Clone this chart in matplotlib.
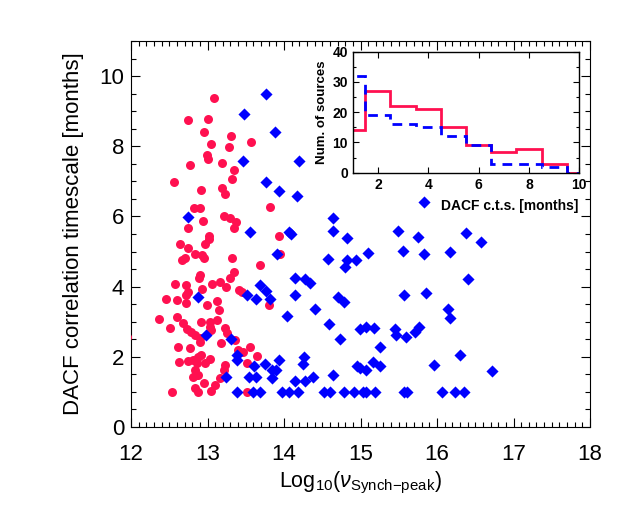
import numpy as np
import matplotlib
matplotlib.use('Agg')
import matplotlib.pyplot as plt
from matplotlib.ticker import MultipleLocator

# red circles: log10(nu_synch_peak), DACF timescale [months]
red_x = [13.08, 12.75, 13.00, 12.96, 13.31, 13.04, 13.28, 13.57, 12.99, 13.00,
         12.77, 13.19, 13.34, 13.32, 12.56, 12.91, 13.19, 13.23, 12.82, 12.90,
         13.82, 12.94, 13.22, 13.29, 13.37, 13.35, 12.75, 13.02, 13.02, 12.97,
         13.94, 12.64, 12.74, 12.66, 12.71, 12.84, 12.93, 12.95, 13.32, 13.68,
         13.95, 12.90, 12.89, 13.35, 13.29, 12.58, 12.72, 12.74, 12.93, 13.06,
         13.16, 13.24, 13.41, 13.45, 12.46, 12.60, 12.72, 12.72, 13.12, 13.15,
         12.99, 13.81, 12.36, 12.51, 12.60, 12.68, 12.73, 12.79, 12.84, 12.90,
         12.91, 13.03, 13.12, 13.03, 13.05, 13.23, 13.26, 13.18, 12.62, 12.77,
         12.90, 13.40, 13.47, 13.56, 13.65, 13.36, 12.63, 12.75, 12.81, 12.88,
         12.92, 13.03, 12.97, 12.86, 13.23, 13.21, 13.51, 12.84, 12.85, 12.81,
         12.88, 12.95, 13.16, 13.10, 13.05, 12.83, 12.88, 12.53, 13.52, 11.95]
red_y = [9.38, 8.74, 8.77, 8.41, 8.30, 8.06, 7.98, 8.11, 7.75, 7.64,
         7.46, 7.53, 7.32, 7.07, 6.97, 6.74, 6.82, 6.65, 6.23, 6.25,
         6.27, 5.87, 6.01, 5.96, 5.85, 5.67, 5.68, 5.45, 5.35, 5.21,
         5.45, 5.21, 5.09, 4.76, 4.81, 4.93, 4.90, 4.81, 4.81, 4.62,
         4.94, 4.33, 4.24, 4.42, 4.24, 4.07, 4.04, 3.85, 3.93, 4.07,
         4.12, 4.00, 3.89, 3.85, 3.64, 3.62, 3.76, 3.54, 3.59, 3.33,
         3.47, 3.48, 3.08, 2.83, 3.14, 2.97, 2.78, 2.72, 2.62, 2.53,
         2.98, 3.00, 3.05, 2.86, 2.76, 2.81, 2.67, 2.38, 2.27, 2.24,
         2.43, 2.19, 2.15, 2.27, 2.02, 2.48, 1.86, 1.89, 1.91, 2.00,
         2.05, 1.93, 1.81, 1.81, 1.77, 1.62, 1.81, 1.62, 1.48, 1.42,
         1.48, 1.25, 1.39, 1.20, 1.03, 1.10, 0.99, 0.99, 0.99, 2.57]

# blue diamonds
blue_x = [13.76, 13.48, 13.88, 13.46, 14.19, 13.76, 13.94, 14.17, 12.75, 13.56,
          14.06, 14.09, 13.91, 14.15, 14.28, 14.34, 13.68, 13.77, 13.82, 13.52,
          13.63, 12.87, 14.15, 14.04, 14.41, 12.98, 13.31, 13.38, 13.38, 13.61,
          13.75, 13.94, 13.84, 13.90, 13.84, 13.54, 13.64, 13.24, 14.26, 14.25,
          14.15, 14.28, 14.38, 14.59, 14.64,
          13.38, 13.60, 13.68, 13.97, 14.07, 14.18, 14.52, 14.60, 14.79, 14.92,
          15.03, 15.07, 15.19, 15.57, 15.61, 16.07, 16.24, 16.35,
          15.83, 14.64, 14.64, 15.49, 14.82, 15.75, 16.38, 16.58, 15.56, 15.10,
          15.83, 16.17, 14.57, 14.82, 14.94, 14.80, 16.41, 14.70, 14.78, 15.57,
          15.86, 16.14, 16.17, 14.73, 14.99, 15.07, 15.18, 15.45, 15.46, 15.59,
          15.71, 15.76, 15.25, 16.30, 14.95, 14.99, 15.07, 15.16, 15.26, 15.96,
          16.72]
blue_y = [9.49, 8.91, 8.40, 7.57, 7.57, 6.99, 6.73, 6.58, 5.99, 5.56,
          5.56, 5.51, 4.93, 4.24, 4.22, 4.09, 4.05, 3.87, 3.64, 3.76,
          3.64, 3.71, 3.75, 3.16, 3.35, 2.62, 2.50, 2.05, 1.91, 1.74,
          1.79, 1.91, 1.62, 1.62, 1.39, 1.43, 1.42, 1.42, 2.00, 1.79,
          1.32, 1.32, 1.43, 2.93, 1.48,
          0.99, 0.99, 0.99, 0.99, 0.99, 0.99, 0.99, 0.99, 0.99, 0.99,
          0.99, 0.99, 0.99, 0.99, 0.99, 0.99, 0.99, 0.99,
          6.42, 5.96, 5.59, 5.58, 5.39, 5.42, 5.52, 5.26, 5.02, 4.95,
          4.93, 4.99, 4.79, 4.76, 4.76, 4.55, 4.22, 3.71, 3.55, 3.76,
          3.81, 3.35, 3.11, 2.51, 2.79, 2.84, 2.81, 2.79, 2.62, 2.56,
          2.72, 2.86, 2.29, 2.05, 1.75, 1.67, 1.62, 1.84, 1.75, 1.77,
          1.60]

# inset histogram (bins of 1 month centred on integers)
hist_edges = [0.5, 1.5, 2.5, 3.5, 4.5, 5.5, 6.5, 7.5, 8.5, 9.5, 10.5]
hist_red = [14, 27, 22, 21, 15, 9, 7, 8, 3, 0]
hist_blue = [32, 19, 16, 15, 12, 9, 3, 3, 2, 0]

RED = '#ff1050'
BLUE = '#0000ff'

plt.rcParams['font.family'] = ['Liberation Sans', 'DejaVu Sans']
plt.rcParams['mathtext.fontset'] = 'custom'
plt.rcParams['mathtext.rm'] = 'Liberation Sans'
plt.rcParams['mathtext.it'] = 'Liberation Sans:italic'

fig = plt.figure(figsize=(6.29, 5.11), dpi=100)
ax = fig.add_axes([0.2083, 0.1644, 0.7297, 0.7554])

ax.scatter(red_x, red_y, s=42, color=RED, marker='o', linewidths=0, zorder=3)
ax.scatter(blue_x, blue_y, s=38, color=BLUE, marker='D', linewidths=0, zorder=4)

ax.set_xlim(12, 18)
ax.set_ylim(0, 11)
ax.xaxis.set_major_locator(MultipleLocator(1))
ax.xaxis.set_minor_locator(MultipleLocator(0.1))
ax.yaxis.set_major_locator(MultipleLocator(2))
ax.yaxis.set_minor_locator(MultipleLocator(0.5))
ax.tick_params(which='both', direction='in', top=True, right=True, width=0.8)
ax.tick_params(which='major', length=6.5, labelsize=16)
ax.tick_params(axis='x', which='major', pad=12)
ax.tick_params(axis='y', which='major', pad=5)
ax.tick_params(which='minor', length=3.5)
for sp in ax.spines.values():
    sp.set_linewidth(0.8)

ax.set_xlabel(r'Log$_{10}$($\nu_{\rm Synch{-}peak}$)', fontsize=15.5, labelpad=4)
ax.set_ylabel('DACF correlation timescale [months]', fontsize=16, labelpad=11)

# inset
ax_in = fig.add_axes([0.5607, 0.662, 0.3603, 0.2368])
ax_in.set_facecolor('white')
ax_in.stairs(hist_red, hist_edges, baseline=None, color=RED, linewidth=2.0)
ax_in.stairs(hist_blue, hist_edges, baseline=None, color=BLUE, linewidth=2.0,
             linestyle=(0, (3.5, 2.5)))
ax_in.set_xlim(1, 10)
ax_in.set_ylim(0, 40)
ax_in.xaxis.set_major_locator(MultipleLocator(2))
ax_in.yaxis.set_major_locator(MultipleLocator(10))
ax_in.yaxis.set_minor_locator(MultipleLocator(5))
ax_in.tick_params(which='both', direction='in', top=True, right=True, width=0.8,
                  labelsize=10)
ax_in.tick_params(which='major', length=4)
ax_in.tick_params(which='minor', length=2)
for lab in ax_in.get_xticklabels() + ax_in.get_yticklabels():
    lab.set_fontweight('bold')
for sp in ax_in.spines.values():
    sp.set_linewidth(1.0)
ax_in.set_ylabel('Num. of sources', fontsize=9.5, fontweight='bold', labelpad=3)
ax_in.set_xlabel('DACF c.t.s. [months]', fontsize=10, fontweight='bold', labelpad=3)
ax_in.xaxis.set_label_coords(0.695, -0.22)

fig.savefig('out.png', dpi=100)
